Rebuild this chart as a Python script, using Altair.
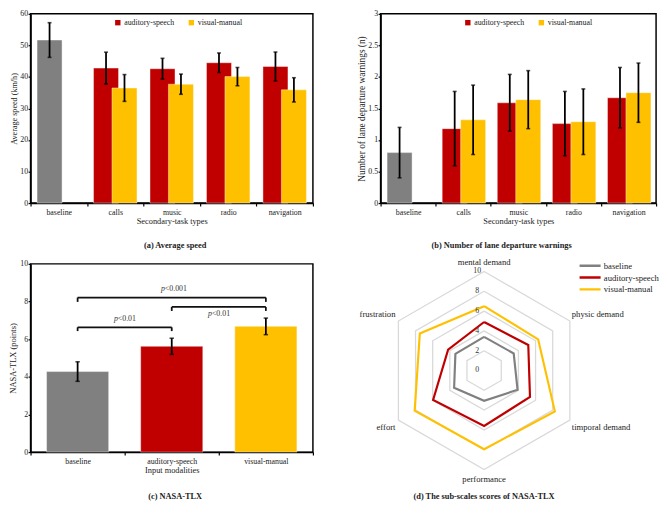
import altair as alt
import pandas as pd

FONT = "Liberation Serif"
TEXT = "#222222"
SERIES = ["baseline", "auditory-speech", "visual-manual"]
COLORS = ["#808080", "#C00000", "#FFC000"]

# ---------------- data ----------------
tasks = ["baseline", "calls", "music", "radio", "navigation"]

# (a) Average speed (km/h): mean and half-length of error bar
speed_baseline = [51.7]
speed_baseline_err = [5.5]
speed_as = [42.8, 42.6, 44.5, 43.3]
speed_as_err = [5.05, 3.3, 3.1, 4.6]
speed_vm = [36.5, 37.7, 40.1, 35.9]
speed_vm_err = [4.25, 3.2, 2.9, 3.85]

# (b) Number of lane departure warnings
ldw_baseline = [0.80]
ldw_baseline_err = [0.40]
ldw_as = [1.18, 1.59, 1.26, 1.67]
ldw_as_err = [0.59, 0.45, 0.51, 0.48]
ldw_vm = [1.32, 1.64, 1.29, 1.75]
ldw_vm_err = [0.55, 0.46, 0.52, 0.47]

# (c) NASA-TLX
modalities = ["baseline", "auditory-speech", "visual-manual"]
tlx = [4.28, 5.62, 6.68]
tlx_err = [0.52, 0.43, 0.44]

bracket_from = ["baseline", "auditory-speech", "baseline"]
bracket_to = ["auditory-speech", "visual-manual", "visual-manual"]
bracket_top = [6.63, 7.71, 8.21]
bracket_foot = [6.43, 7.50, 7.98]
bracket_label = ["<0.01", "<0.01", "<0.001"]
bracket_label_y = [7.05, 7.34, 8.68]

# (d) sub-scales of NASA-TLX
subscales = ["mental demand", "physic demand", "timporal demand",
             "performance", "effort", "frustration"]
radar_baseline = [3.4, 3.45, 3.9, 3.05, 3.5, 3.35]
radar_as = [4.9, 5.15, 5.35, 5.6, 5.95, 4.2]
radar_vm = [6.5, 6.3, 8.25, 7.95, 8.1, 7.5]
grid_levels = [2, 4, 6, 8, 10]
level_labels = [0, 2, 4, 6, 8, 10]

# layout (pixels)
W_LEFT, W_RIGHT = 288, 281
H_TOP, H_BOTTOM, H_RADAR = 193, 192, 222
RADAR_X = [-10.46, 17.37]
RADAR_Y = [-11.21, 10.77]

# ---------------- panels (a), (b) ----------------
def group_frame(b_mean, b_err, as_mean, as_err, vm_mean, vm_err):
    rows = [{"task": tasks[0], "series": SERIES[0], "slot": "1",
             "mean": b_mean[0], "err": b_err[0]}]
    rows += [{"task": t, "series": SERIES[1], "slot": "1", "mean": m, "err": e}
             for t, m, e in zip(tasks[1:], as_mean, as_err)]
    rows += [{"task": t, "series": SERIES[2], "slot": "2", "mean": m, "err": e}
             for t, m, e in zip(tasks[1:], vm_mean, vm_err)]
    return pd.DataFrame(rows)


def grouped_panel(df, y_domain, y_values, y_title, y_title_size, caption, cap_dx, width,
                  y_format=None):
    x = alt.X("task:N", sort=tasks,
              scale=alt.Scale(domain=tasks, paddingInner=0, paddingOuter=0),
              axis=alt.Axis(title="Secondary-task types", labelAngle=0, tickBand="extent",
                            tickSize=3, labelPadding=2.6, titlePadding=0))
    xo = alt.XOffset("slot:N", scale=alt.Scale(domain=["1", "2"], paddingInner=0,
                                                paddingOuter=0.53))
    ysc = alt.Scale(domain=y_domain, nice=False)
    ax_kw = dict(title=y_title, values=y_values, tickSize=2.5, labelPadding=0.5,
                 titlePadding=1, titleFontSize=y_title_size)
    if y_format:
        ax_kw["format"] = y_format
    yax = alt.Axis(**ax_kw)
    base = alt.Chart(df).transform_calculate(lo="datum.mean - datum.err",
                                             hi="datum.mean + datum.err")
    bars = base.mark_bar(width=25.5, stroke="white", strokeWidth=0.7, strokeOpacity=0.6).encode(
        x=x, xOffset=xo,
        y=alt.Y("mean:Q", scale=ysc, axis=yax),
        color=alt.Color("series:N", scale=alt.Scale(domain=SERIES, range=COLORS),
                        legend=alt.Legend(values=SERIES[1:], orient="none", legendX=85,
                                          legendY=5, direction="horizontal", title=None,
                                          symbolType="square", symbolSize=30,
                                          symbolStrokeWidth=0, labelFontSize=8,
                                          labelOffset=2.5, columnPadding=13, padding=0,
                                          labelColor=TEXT)),
    )
    whisk = base.mark_rule(color="black", strokeWidth=1.8).encode(
        x=x, xOffset=xo, y=alt.Y("lo:Q", scale=ysc, axis=yax), y2="hi:Q")
    cap_lo = base.mark_tick(orient="horizontal", size=4, thickness=1.6, color="black").encode(
        x=x, xOffset=xo, y=alt.Y("lo:Q", scale=ysc, axis=yax))
    cap_hi = base.mark_tick(orient="horizontal", size=4, thickness=1.6, color="black").encode(
        x=x, xOffset=xo, y=alt.Y("hi:Q", scale=ysc, axis=yax))
    return alt.layer(bars, whisk, cap_lo, cap_hi).properties(
        width=width, height=H_TOP,
        title=alt.TitleParams(caption, orient="bottom", anchor="middle", fontSize=8.5,
                              fontWeight="bold", color=TEXT, offset=17, dx=cap_dx))


panel_a = grouped_panel(
    group_frame(speed_baseline, speed_baseline_err, speed_as, speed_as_err, speed_vm, speed_vm_err),
    [0, 60], [0, 10, 20, 30, 40, 50, 60], "Average speed (km/h)", 8.3,
    "(a) Average speed", 3.5, W_LEFT)

panel_b = grouped_panel(
    group_frame(ldw_baseline, ldw_baseline_err, ldw_as, ldw_as_err, ldw_vm, ldw_vm_err),
    [0, 3], [0, 0.5, 1, 1.5, 2, 2.5, 3], "Number of lane departure warnings (n)", 9.5,
    "(b) Number of lane departure warnings", -17, W_RIGHT, y_format="~g")

# ---------------- panel (c) ----------------
tlx_df = pd.DataFrame({"modality": modalities, "mean": tlx, "err": tlx_err})
ysc_c = alt.Scale(domain=[0, 10], nice=False)
yax_c = alt.Axis(title="NASA-TLX (points)", values=[0, 2, 4, 6, 8, 10], tickSize=2.5,
                 labelPadding=0.5, titlePadding=2, titleFontSize=8.6)
x_c = alt.X("modality:N", sort=modalities,
            scale=alt.Scale(domain=modalities, paddingInner=0, paddingOuter=0),
            axis=alt.Axis(title="Input modalities", labelAngle=0, tickBand="extent",
                          tickSize=3, labelPadding=2.6, titlePadding=0))
base_c = alt.Chart(tlx_df).transform_calculate(lo="datum.mean - datum.err",
                                               hi="datum.mean + datum.err")
bars_c = base_c.mark_bar(width={"band": 0.66}, stroke="white", strokeWidth=0.7,
                         strokeOpacity=0.6).encode(
    x=x_c,
    y=alt.Y("mean:Q", scale=ysc_c, axis=yax_c),
    color=alt.Color("modality:N", scale=alt.Scale(domain=SERIES, range=COLORS), legend=None),
)
whisk_c = base_c.mark_rule(color="black", strokeWidth=1.8).encode(
    x=x_c, y=alt.Y("lo:Q", scale=ysc_c, axis=yax_c), y2="hi:Q")
caps_c = [base_c.mark_tick(orient="horizontal", size=4.5, thickness=1.6, color="black").encode(
    x=x_c, y=alt.Y(f"{f}:Q", scale=ysc_c, axis=yax_c)) for f in ("lo", "hi")]
bars_layer = alt.layer(bars_c, whisk_c, *caps_c)

idx = {m: i for i, m in enumerate(modalities)}
br_df = pd.DataFrame({
    "x1": [idx[m] for m in bracket_from],
    "x2": [idx[m] for m in bracket_to],
    "top": bracket_top, "foot": bracket_foot,
    "label": bracket_label, "ly": bracket_label_y,
})
xq = alt.Scale(domain=[-0.5, len(modalities) - 0.5], nice=False, zero=False)
br_base = alt.Chart(br_df)
br_h = br_base.mark_rule(color="#111111", strokeWidth=1.8).encode(
    x=alt.X("x1:Q", scale=xq, axis=None), x2="x2:Q",
    y=alt.Y("top:Q", scale=ysc_c, axis=yax_c))
br_legs = br_base.transform_fold(["x1", "x2"], as_=["end", "xpos"]).mark_rule(
    color="#111111", strokeWidth=1.8).encode(
    x=alt.X("xpos:Q", scale=xq, axis=None),
    y=alt.Y("top:Q", scale=ysc_c, axis=yax_c), y2="foot:Q")
br_p = br_base.transform_calculate(mid="(datum.x1 + datum.x2) / 2").mark_text(
    text="p", fontStyle="italic", align="right", dx=-7, fontSize=8, color="#333333").encode(
    x=alt.X("mid:Q", scale=xq, axis=None), y=alt.Y("ly:Q", scale=ysc_c, axis=yax_c))
br_txt = br_base.transform_calculate(mid="(datum.x1 + datum.x2) / 2").mark_text(
    align="left", dx=-7, fontSize=8, color="#333333").encode(
    x=alt.X("mid:Q", scale=xq, axis=None), y=alt.Y("ly:Q", scale=ysc_c, axis=yax_c),
    text="label:N")
br_layer = alt.layer(br_h, br_legs, br_p, br_txt)

panel_c = alt.layer(bars_layer, br_layer).resolve_scale(x="independent").properties(
    width=W_LEFT, height=H_BOTTOM,
    title=alt.TitleParams("(c) NASA-TLX", orient="bottom", anchor="middle", fontSize=8.5,
                          fontWeight="bold", color=TEXT, offset=19, dx=3.5))

# ---------------- panel (d) radar ----------------
n_ax = len(subscales)
radar_rows = []
for s, vals in zip(SERIES, [radar_baseline, radar_as, radar_vm]):
    for k in range(n_ax + 1):
        radar_rows.append({"series": s, "k": k, "axis": k % n_ax, "value": vals[k % n_ax]})
radar_df = pd.DataFrame(radar_rows)
grid_df = pd.DataFrame([{"level": lv, "k": k, "axis": k % n_ax}
                        for lv in grid_levels for k in range(n_ax + 1)])
lab_df = pd.DataFrame({"axis": list(range(n_ax)), "name": subscales})
lvl_df = pd.DataFrame({"level": level_labels})

xr = alt.Scale(domain=RADAR_X, nice=False, zero=False)
yr = alt.Scale(domain=RADAR_Y, nice=False, zero=False)
ang = "datum.axis * 2 * PI / %d" % n_ax

grid = alt.Chart(grid_df).transform_calculate(
    gx=f"datum.level * sin({ang})", gy=f"datum.level * cos({ang})").mark_line(
    color="#d9d9d9", strokeWidth=1.3).encode(
    x=alt.X("gx:Q", scale=xr, axis=None), y=alt.Y("gy:Q", scale=yr, axis=None),
    detail="level:N", order="k:Q")

lines = alt.Chart(radar_df).transform_calculate(
    rx=f"datum.value * sin({ang})", ry=f"datum.value * cos({ang})").mark_line(
    strokeWidth=2.2).encode(
    x=alt.X("rx:Q", scale=xr, axis=None), y=alt.Y("ry:Q", scale=yr, axis=None),
    order="k:Q",
    color=alt.Color("series:N", scale=alt.Scale(domain=SERIES, range=COLORS),
                    legend=alt.Legend(orient="none", legendX=201.7, legendY=-4, title=None,
                                      symbolType="stroke", symbolSize=460,
                                      symbolStrokeWidth=2.5, labelFontSize=8.8,
                                      labelOffset=2, clipHeight=12, rowPadding=0,
                                      padding=0, labelColor=TEXT)))

lvl_text = alt.Chart(lvl_df).transform_calculate(zx="0").mark_text(
    dx=-7, fontSize=8, color="#333333").encode(
    x=alt.X("zx:Q", scale=xr, axis=None), y=alt.Y("level:Q", scale=yr, axis=None),
    text="level:Q")

lab_base = alt.Chart(lab_df).transform_calculate(
    sx=f"sin({ang})", cy=f"cos({ang})").transform_calculate(
    lx="10 * datum.sx",
    ly="10 * datum.cy + (abs(datum.sx) < 0.01 ? 0.95 : 0.7) * (datum.cy > 0 ? 1 : -1)")
lab_enc = dict(x=alt.X("lx:Q", scale=xr, axis=None), y=alt.Y("ly:Q", scale=yr, axis=None),
               text="name:N")
lab_mid = lab_base.transform_filter("abs(datum.sx) < 0.01").mark_text(
    align="center", fontSize=8.8, color=TEXT).encode(**lab_enc)
lab_right = lab_base.transform_filter("datum.sx > 0.01").mark_text(
    align="left", dx=2, fontSize=8.8, color=TEXT).encode(**lab_enc)
lab_left = lab_base.transform_filter("datum.sx < -0.01").mark_text(
    align="right", dx=-3, fontSize=8.8, color=TEXT).encode(**lab_enc)

panel_d = alt.layer(grid, lines, lvl_text, lab_mid, lab_right, lab_left).properties(
    width=W_RIGHT, height=H_RADAR, view=alt.ViewBackground(strokeOpacity=0),
    title=alt.TitleParams("(d) The sub-scales scores of NASA-TLX", orient="bottom",
                          anchor="middle", fontSize=8.5, fontWeight="bold", color=TEXT,
                          offset=9, dx=-35))

# ---------------- assemble ----------------
chart = alt.concat(panel_a, panel_b, panel_c, panel_d, columns=2,
                   spacing={"row": 62, "column": 69}, bounds="flush", align="each").resolve_scale(
    color="independent").resolve_legend(color="independent").properties(
    padding={"left": 0, "top": -4, "right": 0, "bottom": 0}
).configure(font=FONT).configure_view(stroke="black", strokeWidth=1.5).configure_axis(
    labelFont=FONT, titleFont=FONT, labelFontSize=8, titleFontSize=8.5,
    labelColor=TEXT, titleColor=TEXT, titleFontWeight="normal", domainColor="black",
    domainWidth=1.5, tickColor="black", tickWidth=1.2, grid=False
).configure_legend(labelFont=FONT).configure_title(font=FONT)

chart.save("out.html", embed_options={"renderer": "svg", "actions": False})
